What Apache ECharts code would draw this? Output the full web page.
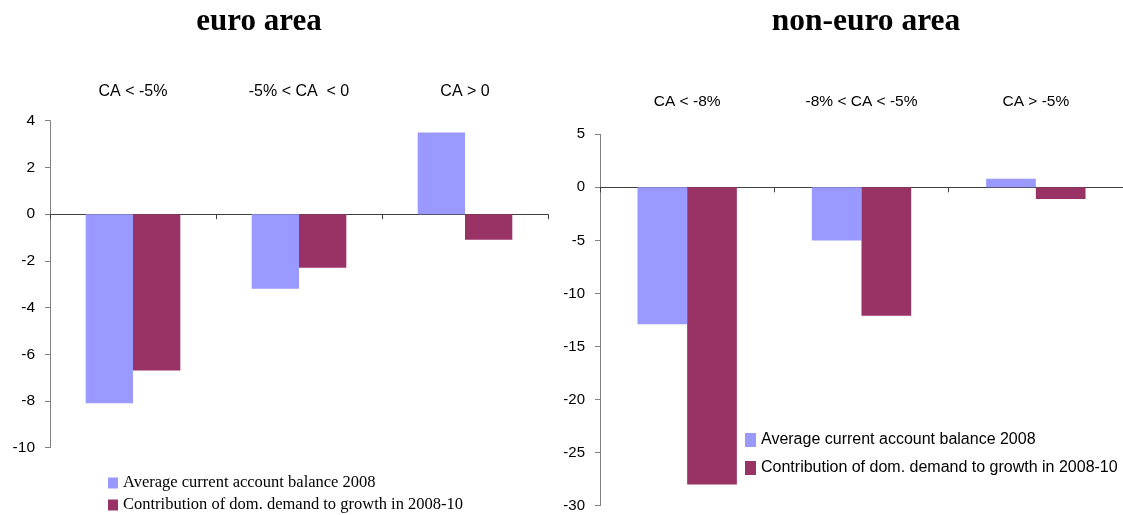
<!DOCTYPE html>
<html>
<head>
<meta charset="utf-8">
<style>
  html, body { margin: 0; padding: 0; background: #ffffff; }
  #chart { width: 1123px; height: 515px; }
</style>
<script src="https://cdn.jsdelivr.net/npm/echarts@6/dist/echarts.min.js"></script>
</head>
<body>
<div id="chart"></div>
<script>
// Current account groups and the two measures plotted for each panel
const euroCategories = ['CA < -5%', '-5% < CA  < 0', 'CA > 0'];
const nonEuroCategories = ['CA < -8%', '-8% < CA < -5%', 'CA > -5%'];

const seriesNames = [
  'Average current account balance 2008',
  'Contribution of dom. demand to growth in 2008-10'
];

const euroBalance = [-8.1, -3.2, 3.5];
const euroDemand = [-6.7, -2.3, -1.1];
const nonEuroBalance = [-12.9, -5.0, 0.8];
const nonEuroDemand = [-28.0, -12.1, -1.1];

const panelTitles = ['euro area', 'non-euro area'];

const BLUE = '#9999ff';
const PLUM = '#993366';
const SANS = "'Liberation Sans', Arial, Helvetica, sans-serif";
const SERIF = "'Liberation Serif', 'Times New Roman', serif";

const chart = echarts.init(document.getElementById('chart'), null, { renderer: 'canvas' });

function valueAxis(gridIndex, min, max, interval, fontSize) {
  return {
    type: 'value', gridIndex, min, max, interval,
    axisLine: { show: true, lineStyle: { color: '#808080', width: 1 } },
    axisTick: { show: true, length: 5, lineStyle: { color: '#808080' } },
    axisLabel: { margin: 15, color: '#000', fontFamily: SANS, fontSize },
    splitLine: { show: false }
  };
}

function baseCategoryAxis(gridIndex, data) {
  return {
    type: 'category', gridIndex, data, position: 'bottom',
    axisLine: { onZero: true, lineStyle: { color: '#404040', width: 1 } },
    axisTick: { show: true, length: 5, lineStyle: { color: '#404040' } },
    axisLabel: { show: false }
  };
}

function labelCategoryAxis(gridIndex, data, margin, fontSize) {
  return {
    type: 'category', gridIndex, data, position: 'top',
    axisLine: { show: false, onZero: false },
    axisTick: { show: false },
    axisLabel: { margin, color: '#000', fontFamily: SANS, fontSize }
  };
}

function barSeries(name, data, xAxisIndex, yAxisIndex, color) {
  return {
    type: 'bar', name, data, xAxisIndex, yAxisIndex,
    barGap: '0%', barCategoryGap: '43%',
    itemStyle: { color },
    emphasis: { disabled: true },
    animation: false
  };
}

const option = {
  animation: false,
  grid: [
    { left: 50, top: 120.7, width: 498, height: 327 },
    { left: 600, top: 134.3, width: 523, height: 371.4 }
  ],
  xAxis: [
    baseCategoryAxis(0, euroCategories),
    labelCategoryAxis(0, euroCategories, 21, 16),
    baseCategoryAxis(1, nonEuroCategories),
    labelCategoryAxis(1, nonEuroCategories, 25, 15.5)
  ],
  yAxis: [
    valueAxis(0, -10, 4, 2, 15.5),
    valueAxis(1, -30, 5, 5, 15)
  ],
  legend: [
    {
      data: seriesNames, orient: 'vertical', left: 108, top: 473,
      icon: 'rect', itemWidth: 10, itemHeight: 11, itemGap: 2,
      textStyle: { fontFamily: SERIF, fontSize: 16.5, color: '#000', lineHeight: 20 },
      padding: 0, selectedMode: false
    },
    {
      data: seriesNames, orient: 'vertical', left: 745, top: 431,
      icon: 'rect', itemWidth: 11, itemHeight: 14, itemGap: 10,
      textStyle: { fontFamily: SANS, fontSize: 16, color: '#000', lineHeight: 18 },
      padding: 0, selectedMode: false
    }
  ],
  graphic: [
    {
      type: 'text', x: 259, y: 21.5,
      style: { text: panelTitles[0], font: 'bold 31px ' + SERIF, fill: '#000', textAlign: 'center', textVerticalAlign: 'middle' }
    },
    {
      type: 'text', x: 866, y: 21.5,
      style: { text: panelTitles[1], font: 'bold 31.5px ' + SERIF, fill: '#000', textAlign: 'center', textVerticalAlign: 'middle' }
    }
  ],
  series: [
    barSeries(seriesNames[0], euroBalance, 0, 0, BLUE),
    barSeries(seriesNames[1], euroDemand, 0, 0, PLUM),
    barSeries(seriesNames[0], nonEuroBalance, 2, 1, BLUE),
    barSeries(seriesNames[1], nonEuroDemand, 2, 1, PLUM)
  ]
};

chart.setOption(option);
</script>
</body>
</html>
